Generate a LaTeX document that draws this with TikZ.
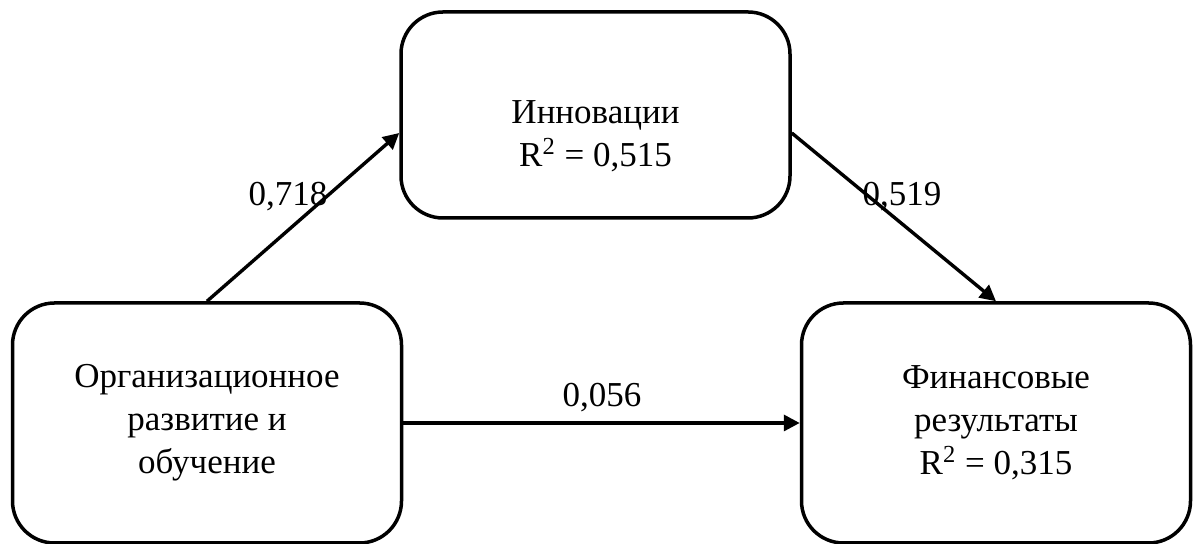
\documentclass[tikz,border=0pt]{standalone}
\usepackage{fontspec}
\setmainfont{Liberation Serif}
\usepackage{tikz}
\usetikzlibrary{calc,arrows.meta}

\begin{document}
\begin{tikzpicture}[x=0.5pt, y=0.5pt,
  block/.style={draw, line width=1.75pt, rounded corners=21pt, align=center,
    minimum width=194.5pt, inner sep=0pt, font=\fontsize{17.5}{21.5}\selectfont},
  link/.style={line width=1.7pt, -{Triangle[length=8pt,width=8pt]}},
  coef/.style={inner sep=0pt, font=\fontsize{17.5}{21.5}\selectfont}]
  \useasboundingbox (0,0) rectangle (1195,544);
  \node[block, minimum height=120pt] (org) at (207,121) {Организационное\\развитие и\\обучение};
  \node[block, minimum height=103pt] (innov) at (595.5,429) {\rule{0pt}{33pt}Инновации\\R\textsuperscript{2} = 0,515};
  \node[block, minimum height=120pt] (fin) at (996,121) {Финансовые\\результаты\\R\textsuperscript{2} = 0,315};
  \draw[link] (org.north) -- ($(innov.west)+(0,-9pt)$);
  \draw[link] ($(innov.east)+(0,-9pt)$) -- (fin.north);
  \draw[link] (org.east) -- (fin.west);
  \node[coef] (c1) at (288,347) {0,718};
  \node[coef] (c2) at (902,347) {0,519};
  \node[coef] (c3) at (602,146) {0,056};
\end{tikzpicture}
\end{document}
